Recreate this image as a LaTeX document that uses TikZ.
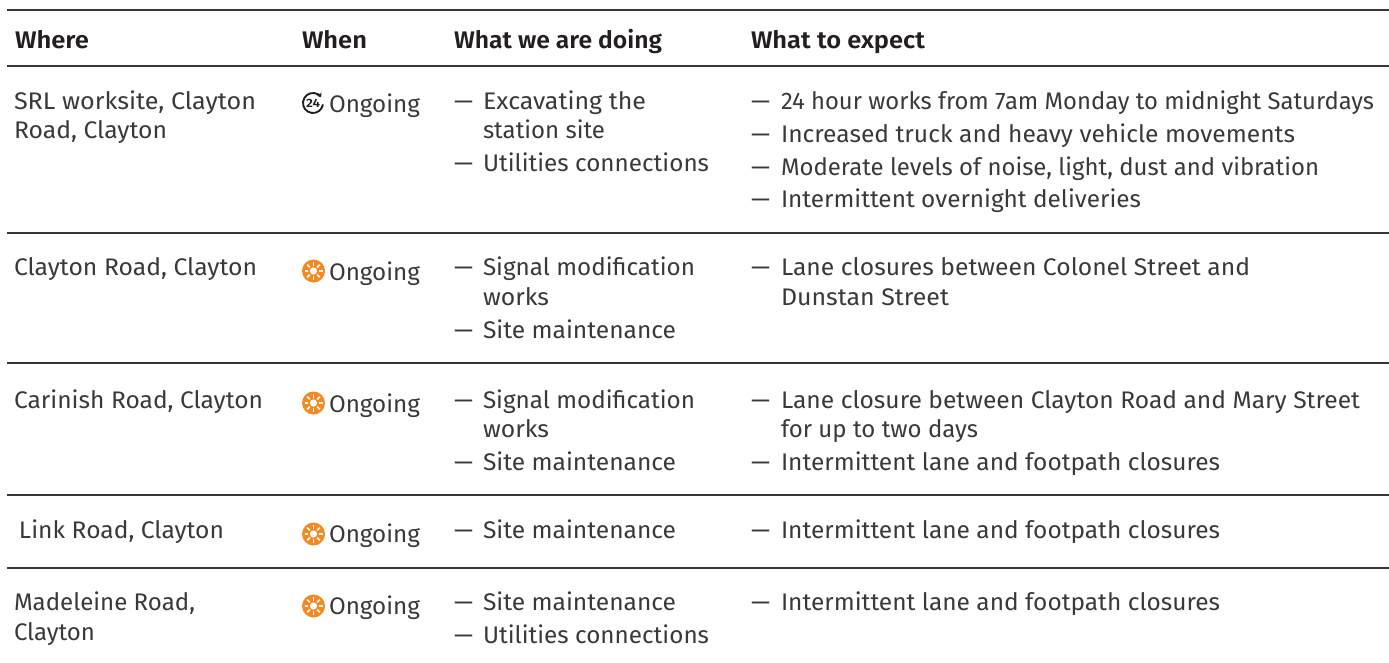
\documentclass[tikz,border=0pt]{standalone}
\usepackage{fontspec}
\usepackage{graphicx}
\setmainfont{Fira Sans}[BoldFont={Fira Sans SemiBold}]
\usetikzlibrary{calc,arrows.meta}
\definecolor{ink}{HTML}{3A3938}
\definecolor{headink}{HTML}{231F20}
\definecolor{sun}{HTML}{F18A21}
\tikzset{
  txt/.style={anchor=base west,inner sep=0pt,outer sep=0pt,text=ink,font=\fontsize{24}{29}\selectfont},
  hd/.style={txt,text=headink,font=\fontsize{24}{29}\selectfont\bfseries},
  rulel/.style={draw=headink!90,line width=1.6pt},
}
\newcommand{\fitw}[2]{\resizebox{#1pt}{\height}{#2}}
\newcommand{\sunicon}[2]{%
  \fill[sun] (#1,#2) circle (11.5);
  \fill[white] (#1,#2) circle (3.6);
  \foreach \a in {0,45,...,315}{\draw[white,line width=1.7pt] ($(#1,#2)+(\a:5.2)$) -- ($(#1,#2)+(\a:9)$);}
}
\begin{document}
\begin{tikzpicture}[x=1pt,y=-1pt]
\useasboundingbox (0,0) rectangle (1389,662);
\foreach \n/\y in {a/10,b/66,c/233,d/363,e/495,f/568}{
  \coordinate (l\n) at (7,\y); \coordinate (r\n) at (1389,\y);
  \draw[rulel] (l\n) -- (r\n);
}
\node[hd] (h1) at (15,48) {\fitw{74}{Where}};
\node[hd] (h2) at (302,48) {\fitw{65}{When}};
\node[hd] (h3) at (454,48) {\fitw{208}{What we are doing}};
\node[hd] (h4) at (751,48) {\fitw{174}{What to expect}};
% row 1
\node[txt] (w1a) at (14,109) {\fitw{242}{SRL worksite, Clayton}};
\node[txt] (w1b) at (14,138) {\fitw{153}{Road, Clayton}};
\draw[headink,line width=1.9pt,-{Stealth[length=4pt,width=6pt]}] (313,103) ++(8:10) arc[start angle=8,end angle=325,radius=10];
\node[inner sep=0pt,text=headink,font=\fontsize{12}{12}\selectfont\bfseries] (i1) at (313,103) {\fitw{14}{24}};
\node[txt] (o1) at (329,112) {\fitw{91}{Ongoing}};
\node[txt] (d1a) at (454,109) {—};\node[txt] (t1a) at (483,109) {\fitw{163}{Excavating the}};
\node[txt] (t1b) at (483,138) {\fitw{122}{station site}};
\node[txt] (d1c) at (454,171) {—};\node[txt] (t1c) at (483,171) {\fitw{226}{Utilities connections}};
\node[txt] (e1ad) at (751,109) {—};\node[txt] (e1a) at (781,109) {\fitw{593}{24 hour works from 7am Monday to midnight Saturdays}};
\node[txt] (e1bd) at (751,142) {—};\node[txt] (e1b) at (781,142) {\fitw{514}{Increased truck and heavy vehicle movements}};
\node[txt] (e1cd) at (751,175) {—};\node[txt] (e1c) at (781,175) {\fitw{538}{Moderate levels of noise, light, dust and vibration}};
\node[txt] (e1dd) at (751,207) {—};\node[txt] (e1d) at (781,207) {\fitw{360}{Intermittent overnight deliveries}};
% row 2
\node[txt] (w2) at (14,275) {\fitw{243}{Clayton Road, Clayton}};
\sunicon{313.5}{271}
\node[txt] (o2) at (329,280) {\fitw{91}{Ongoing}};
\node[txt] (d2a) at (454,275) {—};\node[txt] (t2a) at (483,275) {\fitw{212}{Signal modification}};
\node[txt] (t2b) at (483,305) {\fitw{66}{works}};
\node[txt] (d2c) at (454,338) {—};\node[txt] (t2c) at (483,338) {\fitw{193}{Site maintenance}};
\node[txt] (e2d) at (751,275) {—};\node[txt] (e2a) at (781,275) {\fitw{469}{Lane closures between Colonel Street and}};
\node[txt] (e2b) at (781,305) {\fitw{168}{Dunstan Street}};
% row 3
\node[txt] (w3) at (14,408) {\fitw{249}{Carinish Road, Clayton}};
\sunicon{313.5}{403}
\node[txt] (o3) at (329,412) {\fitw{91}{Ongoing}};
\node[txt] (d3a) at (454,408) {—};\node[txt] (t3a) at (483,408) {\fitw{212}{Signal modification}};
\node[txt] (t3b) at (483,437) {\fitw{66}{works}};
\node[txt] (d3c) at (454,470) {—};\node[txt] (t3c) at (483,470) {\fitw{193}{Site maintenance}};
\node[txt] (e3d) at (751,408) {—};\node[txt] (e3a) at (781,408) {\fitw{579}{Lane closure between Clayton Road and Mary Street}};
\node[txt] (e3b) at (781,437) {\fitw{197}{for up to two days}};
\node[txt] (e3cd) at (751,470) {—};\node[txt] (e3c) at (781,470) {\fitw{439}{Intermittent lane and footpath closures}};
% row 4
\node[txt] (w4) at (19,538) {\fitw{205}{Link Road, Clayton}};
\sunicon{313.5}{534}
\node[txt] (o4) at (329,542) {\fitw{91}{Ongoing}};
\node[txt] (d4) at (454,538) {—};\node[txt] (t4) at (483,538) {\fitw{193}{Site maintenance}};
\node[txt] (e4d) at (751,538) {—};\node[txt] (e4) at (781,538) {\fitw{439}{Intermittent lane and footpath closures}};
% row 5
\node[txt] (w5a) at (14,610) {\fitw{181}{Madeleine Road,}};
\node[txt] (w5b) at (14,640) {\fitw{81}{Clayton}};
\sunicon{313.5}{606}
\node[txt] (o5) at (329,614) {\fitw{91}{Ongoing}};
\node[txt] (d5a) at (454,610) {—};\node[txt] (t5a) at (483,610) {\fitw{193}{Site maintenance}};
\node[txt] (d5b) at (454,643) {—};\node[txt] (t5b) at (483,643) {\fitw{226}{Utilities connections}};
\node[txt] (e5d) at (751,610) {—};\node[txt] (e5) at (781,610) {\fitw{439}{Intermittent lane and footpath closures}};
\end{tikzpicture}
\end{document}
